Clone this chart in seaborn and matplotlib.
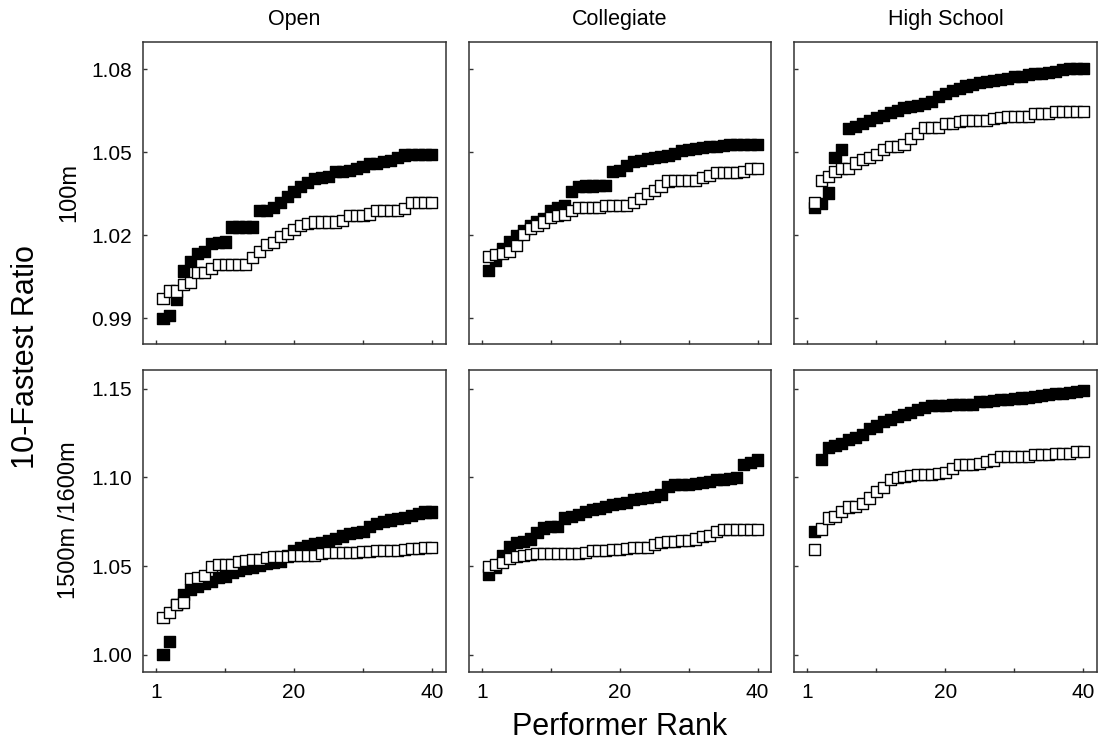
import numpy as np
import pandas as pd
import matplotlib
matplotlib.use("Agg")
import matplotlib.pyplot as plt
import seaborn as sns

# ---------------- data ----------------
ranks = list(range(1, 41))
levels = ["Open", "Collegiate", "High School"]
events = ["100m", "1500m /1600m"]
x_ticks = [0, 10, 20, 30, 40]
x_tick_labels = ["1", "", "20", "", "40"]
y_ticks_100 = [0.99, 1.02, 1.05, 1.08]
y_ticks_1500 = [1.00, 1.05, 1.10, 1.15]

open_100_filled = [0.990, 0.991, 0.9967, 1.0071, 1.0104, 1.0134, 1.014, 1.0172, 1.0174, 1.0176,
                   1.023, 1.023, 1.023, 1.023, 1.029, 1.029, 1.0302, 1.032, 1.034, 1.0357,
                   1.0375, 1.039, 1.0405, 1.041, 1.0413, 1.043, 1.043, 1.0435, 1.044, 1.0447,
                   1.046, 1.046, 1.0465, 1.047, 1.048, 1.049, 1.0493, 1.0493, 1.0493, 1.0493]
open_100_open = [0.9972, 0.9999, 0.9999, 1.0023, 1.0029, 1.0066, 1.0067, 1.0079, 1.0095, 1.0095,
                 1.0095, 1.0095, 1.0095, 1.012, 1.0141, 1.0167, 1.0175, 1.0196, 1.0208, 1.0222,
                 1.0236, 1.0244, 1.0248, 1.0248, 1.0248, 1.0248, 1.0254, 1.027, 1.027, 1.027,
                 1.0277, 1.0289, 1.0289, 1.0289, 1.0289, 1.0296, 1.0319, 1.0319, 1.0319, 1.0319]

coll_100_filled = [1.0073, 1.0110, 1.0152, 1.0176, 1.020, 1.0218, 1.0236, 1.0248, 1.026, 1.0288,
                   1.0302, 1.0306, 1.0357, 1.0375, 1.0378, 1.0378, 1.038, 1.038, 1.0431, 1.0435,
                   1.0453, 1.0465, 1.0471, 1.0477, 1.048, 1.0483, 1.0489, 1.0497, 1.0507, 1.051,
                   1.0513, 1.0517, 1.052, 1.0522, 1.0525, 1.0528, 1.0528, 1.0528, 1.0528, 1.0528]
coll_100_open = [1.0124, 1.013, 1.0134, 1.0143, 1.0162, 1.0203, 1.0226, 1.0236, 1.0248, 1.0265,
                 1.027, 1.0276, 1.029, 1.0302, 1.0302, 1.0302, 1.0302, 1.0308, 1.0308, 1.0308,
                 1.0308, 1.032, 1.0333, 1.035, 1.0362, 1.0378, 1.0396, 1.0397, 1.0397, 1.0397,
                 1.0397, 1.0409, 1.0415, 1.0427, 1.0427, 1.0427, 1.0427, 1.043, 1.0442, 1.0442]

hs_100_filled = [1.0302, 1.0314, 1.0353, 1.048, 1.051, 1.0585, 1.0594, 1.0604, 1.0616, 1.0625,
                 1.0634, 1.0642, 1.0652, 1.066, 1.0666, 1.067, 1.0676, 1.0682, 1.0702, 1.0712,
                 1.0722, 1.073, 1.0739, 1.0746, 1.0751, 1.0754, 1.076, 1.0763, 1.0766, 1.0772,
                 1.0775, 1.0781, 1.0784, 1.0784, 1.0787, 1.079, 1.0799, 1.0802, 1.0802, 1.0802]
hs_100_open = [1.032, 1.0399, 1.0411, 1.0429, 1.0441, 1.0441, 1.0461, 1.0473, 1.048, 1.0493,
               1.051, 1.0522, 1.0522, 1.0529, 1.0549, 1.0567, 1.0589, 1.0589, 1.0589, 1.0604,
               1.0604, 1.061, 1.0613, 1.0613, 1.0613, 1.0613, 1.0622, 1.0625, 1.063, 1.063,
               1.063, 1.063, 1.064, 1.064, 1.064, 1.0648, 1.0648, 1.0648, 1.0648, 1.0648]

open_1500_filled = [1.0001, 1.0076, 1.0285, 1.0341, 1.0369, 1.0384, 1.040, 1.0416, 1.0435, 1.0444,
                    1.0463, 1.0478, 1.0485, 1.0494, 1.0504, 1.0515, 1.0519, 1.0524, 1.056, 1.059,
                    1.0605, 1.0615, 1.0625, 1.0635, 1.0645, 1.0655, 1.067, 1.0685, 1.069, 1.0695,
                    1.0725, 1.074, 1.075, 1.076, 1.077, 1.0775, 1.0785, 1.0795, 1.0805, 1.0805]
open_1500_open = [1.021, 1.0238, 1.0285, 1.0294, 1.0429, 1.0435, 1.0448, 1.0496, 1.0509, 1.0509,
                  1.0509, 1.0528, 1.0534, 1.0537, 1.0537, 1.0547, 1.0552, 1.0556, 1.0556, 1.056,
                  1.056, 1.056, 1.056, 1.0571, 1.0575, 1.0575, 1.0575, 1.0575, 1.0575, 1.0584,
                  1.0584, 1.059, 1.059, 1.059, 1.059, 1.0594, 1.0597, 1.0597, 1.0603, 1.0603]

coll_1500_filled = [1.0453, 1.0491, 1.056, 1.0612, 1.0631, 1.064, 1.0653, 1.0687, 1.0715, 1.0725,
                    1.0725, 1.0771, 1.078, 1.079, 1.0809, 1.0818, 1.0827, 1.0837, 1.0846, 1.0852,
                    1.0859, 1.0874, 1.0883, 1.0889, 1.0893, 1.0902, 1.0949, 1.0958, 1.0958, 1.0958,
                    1.0964, 1.0971, 1.0977, 1.0986, 1.099, 1.0996, 1.1001, 1.107, 1.1083, 1.1098]
coll_1500_open = [1.05, 1.0509, 1.0519, 1.0541, 1.0556, 1.056, 1.0565, 1.0571, 1.0571, 1.0571,
                  1.0571, 1.0571, 1.0571, 1.0571, 1.0579, 1.059, 1.059, 1.059, 1.0594, 1.0594,
                  1.0597, 1.0603, 1.0603, 1.0603, 1.0622, 1.0631, 1.064, 1.064, 1.0646, 1.0646,
                  1.0653, 1.0665, 1.0672, 1.0696, 1.0706, 1.0706, 1.0706, 1.0706, 1.0706, 1.0706]

hs_1500_filled = [1.0696, 1.1102, 1.117, 1.1177, 1.1192, 1.1211, 1.1226, 1.1239, 1.1276, 1.1289,
                  1.1314, 1.1327, 1.1345, 1.1356, 1.1365, 1.138, 1.1395, 1.1405, 1.1405, 1.1407,
                  1.1408, 1.141, 1.141, 1.1412, 1.1425, 1.1428, 1.1432, 1.1436, 1.144, 1.1444,
                  1.1447, 1.145, 1.1454, 1.1462, 1.1467, 1.147, 1.1474, 1.1478, 1.1483, 1.1487]
hs_1500_open = [1.0594, 1.0709, 1.0771, 1.078, 1.0809, 1.0833, 1.0837, 1.0855, 1.0884, 1.0921,
                1.0945, 1.0986, 1.1, 1.1005, 1.1009, 1.1014, 1.1018, 1.1018, 1.1024, 1.1027,
                1.1052, 1.107, 1.107, 1.107, 1.108, 1.1089, 1.1098, 1.1117, 1.1117, 1.1117,
                1.1117, 1.1117, 1.113, 1.113, 1.113, 1.1136, 1.1136, 1.1136, 1.1145, 1.1145]

series = {
    ("100m", "Open"): (open_100_filled, open_100_open),
    ("100m", "Collegiate"): (coll_100_filled, coll_100_open),
    ("100m", "High School"): (hs_100_filled, hs_100_open),
    ("1500m /1600m", "Open"): (open_1500_filled, open_1500_open),
    ("1500m /1600m", "Collegiate"): (coll_1500_filled, coll_1500_open),
    ("1500m /1600m", "High School"): (hs_1500_filled, hs_1500_open),
}

rows = []
for (ev, lv), (filled, hollow) in series.items():
    for r, v in zip(ranks, filled):
        rows.append(dict(event=ev, level=lv, rank=r, ratio=v, kind="filled"))
    for r, v in zip(ranks, hollow):
        rows.append(dict(event=ev, level=lv, rank=r, ratio=v, kind="open"))
df = pd.DataFrame(rows)

# ---------------- plot ----------------
sns.set_style("ticks")
plt.rcParams["font.family"] = ["Liberation Sans", "DejaVu Sans"]
plt.rcParams["text.color"] = "black"
plt.rcParams["xtick.labelcolor"] = "black"
plt.rcParams["ytick.labelcolor"] = "black"

fig, axes = plt.subplots(2, 3, figsize=(11.07, 7.46), dpi=100)
fig.subplots_adjust(left=0.1292, right=0.991, top=0.9437, bottom=0.0992,
                    wspace=0.076, hspace=0.083)

ylims = {"100m": (0.9806, 1.0898), "1500m /1600m": (0.9904, 1.1607)}
yticks = {"100m": (y_ticks_100, ["0.99", "1.02", "1.05", "1.08"]),
          "1500m /1600m": (y_ticks_1500, ["1.00", "1.05", "1.10", "1.15"])}

spine_col = "#333333"
for i, ev in enumerate(events):
    for j, lv in enumerate(levels):
        ax = axes[i, j]
        sub = df[(df.event == ev) & (df.level == lv)]
        sns.scatterplot(data=sub, x="rank", y="ratio", hue="kind",
                        palette={"filled": "black", "open": "white"},
                        marker="s", s=64, edgecolor="black", linewidth=1.0,
                        legend=False, ax=ax, zorder=3)
        ax.set_xlim(-1.9, 42.0)
        ax.set_ylim(*ylims[ev])
        ax.set_xticks(x_ticks)
        ticks, labs = yticks[ev]
        ax.set_yticks(ticks)
        if i == 1:
            ax.set_xticklabels(x_tick_labels)
        else:
            ax.set_xticklabels([])
        if j == 0:
            ax.set_yticklabels(labs)
        else:
            ax.set_yticklabels([])
        ax.set_xlabel("")
        ax.set_ylabel("")
        ax.tick_params(direction="in", length=3, width=1, color=spine_col,
                       labelsize=15, pad=8, labelcolor="black")
        for sp in ax.spines.values():
            sp.set_visible(True)
            sp.set_color(spine_col)
            sp.set_linewidth(1.1)
        if i == 0:
            ax.set_title(lv, fontsize=15.5, pad=12, color="black")

# row labels
fig.text(69 / 1107, 1 - 193 / 746, "100m", rotation=90, ha="center", va="center", fontsize=17)
fig.text(69 / 1107, 1 - 520 / 746, "1500m /1600m", rotation=90, ha="center", va="center", fontsize=17)
fig.text(26 / 1107, 1 - 357 / 746, "10-Fastest Ratio", rotation=90, ha="center", va="center", fontsize=22)
fig.text(620 / 1107, 1 - 727 / 746, "Performer Rank", ha="center", va="center", fontsize=22)

fig.savefig("out.png", dpi=100)
